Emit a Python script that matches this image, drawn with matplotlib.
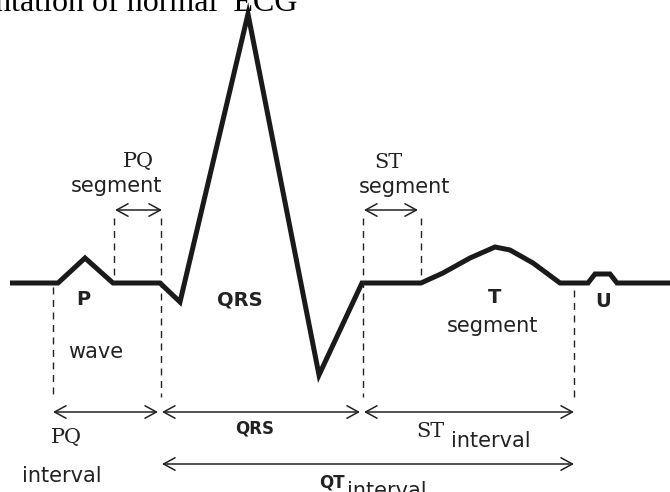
import matplotlib.pyplot as plt

# ECG trace (pixel coords of the drawing, y grows downward)
ecg_x = [10, 58, 85, 113, 160, 180, 248, 319, 362, 421, 443, 470, 495, 510, 533, 560, 588, 595, 610, 617, 670]
ecg_y = [283, 283, 258, 283, 283, 302, 14, 375, 283, 283, 273, 258, 247, 250, 263, 283, 283, 274, 274, 283, 283]

# dashed guide lines
guide_x = [53, 114, 161, 363, 421, 574]
guide_top = [287, 218, 218, 218, 218, 290]
guide_bottom = [397, 283, 397, 397, 283, 397]

# double arrows
arrow_x0 = [115, 364, 53, 162, 364, 162]
arrow_x1 = [162, 418, 158, 360, 574, 574]
arrow_y = [210, 210, 412, 412, 412, 464]

# labels: text, x, y, style
labels = [
    ('PQ', 138, 167, 'serif'),
    ('segment', 117, 192, 'sans'),
    ('ST', 388, 168, 'serif'),
    ('segment', 405, 193, 'sans'),
    ('P', 83, 305, 'bold'),
    ('QRS', 240, 306, 'bold'),
    ('wave', 96, 358, 'sans'),
    ('T', 495, 303, 'bold'),
    ('segment', 493, 332, 'sans'),
    ('U', 603, 307, 'bold'),
    ('QRS', 255, 433, 'bold_small'),
    ('PQ', 66, 443, 'serif'),
    ('interval', 62, 482, 'sans'),
    ('ST', 430, 437, 'serif'),
    ('interval', 491, 447, 'sans'),
    ('QT', 332, 487, 'bold_small'),
]

fig = plt.figure(figsize=(6.7, 4.92), dpi=100)
ax = fig.add_axes([0, 0, 1, 1])
ax.set_xlim(0, 670)
ax.set_ylim(492, 0)
ax.axis('off')

# title, cut off at the top edge like in the source picture
ax.text(297, 11, 'Representation of normal  ECG', ha='right', va='baseline',
        fontsize=23, family='Liberation Serif', color='black')

ax.plot(ecg_x, ecg_y, color='#1a1a1a', lw=3.6, solid_joinstyle='miter',
        solid_capstyle='butt')

for i in range(len(guide_x)):
    ax.plot([guide_x[i], guide_x[i]], [guide_top[i], guide_bottom[i]],
            color='#222222', lw=1.0, ls=(0, (5, 4)))

for i in range(len(arrow_y)):
    ax.annotate('', xy=(arrow_x1[i], arrow_y[i]), xytext=(arrow_x0[i], arrow_y[i]),
                arrowprops=dict(arrowstyle='<->,head_length=0.55,head_width=0.3',
                                mutation_scale=15, lw=1.1, color='#222222',
                                shrinkA=0, shrinkB=0))

styles = {
    'serif': dict(family='DejaVu Serif', fontsize=15),
    'sans': dict(family='DejaVu Sans', fontsize=15),
    'bold': dict(family='DejaVu Sans', fontsize=14, weight='bold'),
    'bold_small': dict(family='DejaVu Sans', fontsize=12, weight='bold'),
}
for txt, x, y, st in labels:
    ax.text(x, y, txt, ha='center', va='baseline', color='#222222', **styles[st])

# "interval" after QT, partly below the bottom edge
ax.text(347, 497, 'interval', ha='left', va='baseline', color='#222222',
        family='DejaVu Sans', fontsize=15)

plt.savefig('out.png', dpi=100)
plt.close()
